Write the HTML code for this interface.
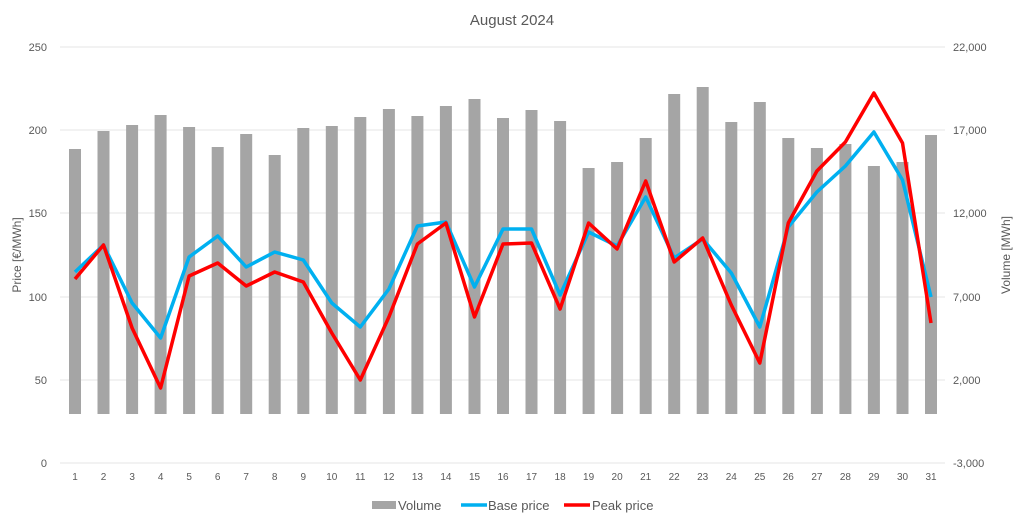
<!DOCTYPE html>
<html><head><meta charset="utf-8"><style>
body{margin:0;background:#fff}
text{font-family:"Liberation Sans",Calibri,sans-serif;fill:#595959}
</style></head><body>
<svg width="1024" height="526" viewBox="0 0 1024 526" xmlns="http://www.w3.org/2000/svg">
<rect width="1024" height="526" fill="#fff"/>
<text x="512" y="25" font-size="15" text-anchor="middle" fill="#404040">August 2024</text>
<g stroke="#e6e6e6" stroke-width="1">
<line x1="60" y1="47" x2="945" y2="47"/><line x1="60" y1="130" x2="945" y2="130"/>
<line x1="60" y1="213" x2="945" y2="213"/><line x1="60" y1="297" x2="945" y2="297"/>
<line x1="60" y1="380" x2="945" y2="380"/><line x1="60" y1="463" x2="945" y2="463"/>
</g>
<g font-size="11" text-anchor="end">
<text x="47" y="51">250</text><text x="47" y="134">200</text><text x="47" y="217">150</text>
<text x="47" y="301">100</text><text x="47" y="384">50</text><text x="47" y="467">0</text>
</g>
<g font-size="11" text-anchor="start">
<text x="953" y="51">22,000</text><text x="953" y="134">17,000</text><text x="953" y="217">12,000</text>
<text x="953" y="301">7,000</text><text x="953" y="384">2,000</text><text x="953" y="467">-3,000</text>
</g>
<text transform="translate(21,255) rotate(-90)" font-size="12" text-anchor="middle">Price [€/MWh]</text>
<text transform="translate(1010,255) rotate(-90)" font-size="12" text-anchor="middle">Volume [MWh]</text>
<g fill="#a5a5a5">
<rect x="69" y="149" width="12" height="265"/><rect x="97.5" y="131" width="12" height="283"/>
<rect x="126.1" y="125" width="12" height="289"/><rect x="154.6" y="115" width="12" height="299"/>
<rect x="183.1" y="127" width="12" height="287"/><rect x="211.7" y="147" width="12" height="267"/>
<rect x="240.2" y="134" width="12" height="280"/><rect x="268.7" y="155" width="12" height="259"/>
<rect x="297.3" y="128" width="12" height="286"/><rect x="325.8" y="126" width="12" height="288"/>
<rect x="354.3" y="117" width="12" height="297"/><rect x="382.9" y="109" width="12" height="305"/>
<rect x="411.4" y="116" width="12" height="298"/><rect x="439.9" y="106" width="12" height="308"/>
<rect x="468.5" y="99" width="12" height="315"/><rect x="497" y="118" width="12" height="296"/>
<rect x="525.5" y="110" width="12" height="304"/><rect x="554.1" y="121" width="12" height="293"/>
<rect x="582.6" y="168" width="12" height="246"/><rect x="611.1" y="162" width="12" height="252"/>
<rect x="639.7" y="138" width="12" height="276"/><rect x="668.2" y="94" width="12" height="320"/>
<rect x="696.7" y="87" width="12" height="327"/><rect x="725.3" y="122" width="12" height="292"/>
<rect x="753.8" y="102" width="12" height="312"/><rect x="782.3" y="138" width="12" height="276"/>
<rect x="810.9" y="148" width="12" height="266"/><rect x="839.4" y="144" width="12" height="270"/>
<rect x="867.9" y="166" width="12" height="248"/><rect x="896.5" y="162" width="12" height="252"/>
<rect x="925" y="135" width="12" height="279"/>
</g>
<polyline fill="none" stroke="#00b0f0" stroke-width="3.5" stroke-linejoin="round" points="75,272 103.5,245 132.1,303 160.6,338 189.1,257 217.7,236 246.2,267 274.7,252 303.3,260 331.8,303 360.3,327 388.9,289 417.4,226 445.9,222 474.5,287 503,229 531.5,229 560.1,295 588.6,232 617.1,246 645.7,197 674.2,258 702.7,239 731.3,273 759.8,327 788.3,227 816.9,192 845.4,166 873.9,132 902.5,180 931,297"/>
<polyline fill="none" stroke="#ff0000" stroke-width="3.5" stroke-linejoin="round" points="75,279 103.5,245 132.1,328 160.6,388 189.1,276 217.7,263 246.2,286 274.7,272 303.3,282 331.8,333 360.3,380 388.9,317 417.4,244 445.9,223 474.5,317 503,244 531.5,243 560.1,309 588.6,223 617.1,249 645.7,181 674.2,262 702.7,238 731.3,305 759.8,363 788.3,223 816.9,171 845.4,142 873.9,93 902.5,143 931,323"/>
<g font-size="10" text-anchor="middle">
<text x="75" y="480">1</text><text x="103.5" y="480">2</text><text x="132.1" y="480">3</text><text x="160.6" y="480">4</text>
<text x="189.1" y="480">5</text><text x="217.7" y="480">6</text><text x="246.2" y="480">7</text><text x="274.7" y="480">8</text>
<text x="303.3" y="480">9</text><text x="331.8" y="480">10</text><text x="360.3" y="480">11</text><text x="388.9" y="480">12</text>
<text x="417.4" y="480">13</text><text x="445.9" y="480">14</text><text x="474.5" y="480">15</text><text x="503" y="480">16</text>
<text x="531.5" y="480">17</text><text x="560.1" y="480">18</text><text x="588.6" y="480">19</text><text x="617.1" y="480">20</text>
<text x="645.7" y="480">21</text><text x="674.2" y="480">22</text><text x="702.7" y="480">23</text><text x="731.3" y="480">24</text>
<text x="759.8" y="480">25</text><text x="788.3" y="480">26</text><text x="816.9" y="480">27</text><text x="845.4" y="480">28</text>
<text x="873.9" y="480">29</text><text x="902.5" y="480">30</text><text x="931" y="480">31</text>
</g>
<rect x="372" y="501" width="24" height="8" fill="#a5a5a5"/>
<text x="398" y="510" font-size="13">Volume</text>
<line x1="461" y1="505" x2="487" y2="505" stroke="#00b0f0" stroke-width="3.5"/>
<text x="488" y="510" font-size="13">Base price</text>
<line x1="564" y1="505" x2="590" y2="505" stroke="#ff0000" stroke-width="3.5"/>
<text x="592" y="510" font-size="13">Peak price</text>
</svg>
</body></html>
